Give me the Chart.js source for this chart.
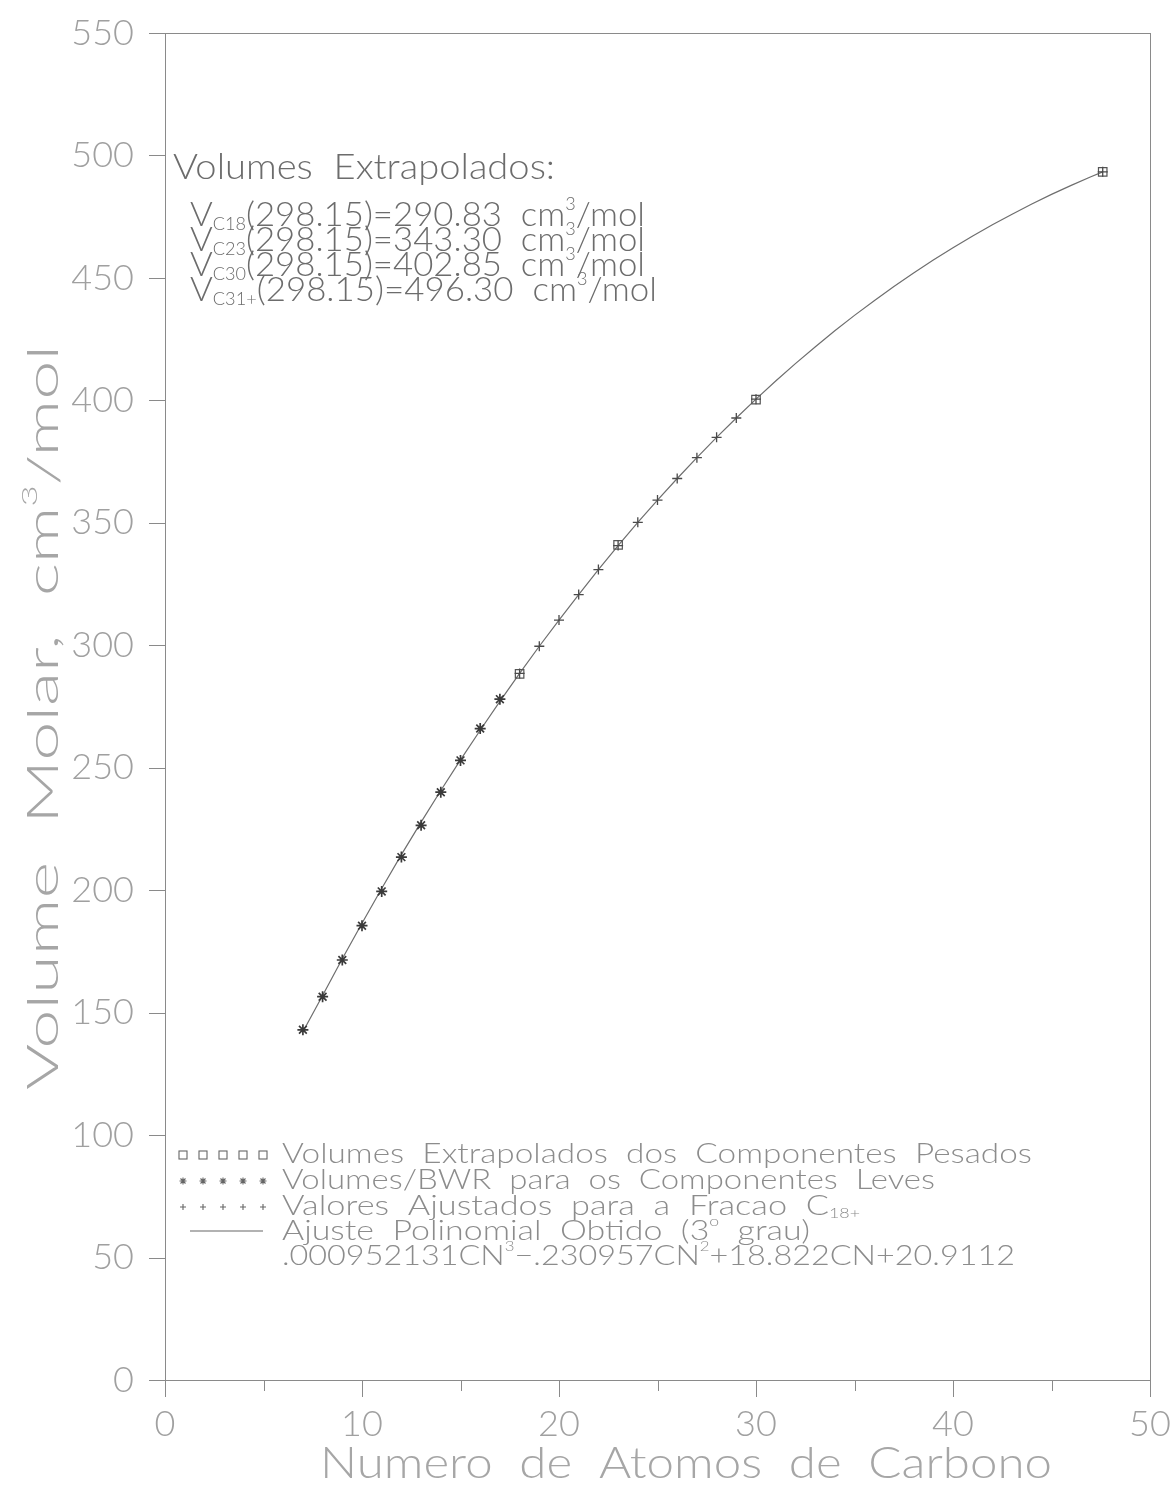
<!DOCTYPE html>
<html><head><meta charset="utf-8">
<script src="https://cdn.jsdelivr.net/npm/chart.js@4.4.0/dist/chart.umd.min.js"></script>
<style>html,body{margin:0;padding:0;background:#fff}#wrap{width:1171px;height:1487px}</style>
</head><body><div id="wrap"><canvas id="c" width="1171" height="1487"></canvas></div>
<script>
const FAMILY = "Lato, 'DejaVu Sans', sans-serif";
const WEIGHT = '300';

// ---- data ----
const xTickValues = [0, 10, 20, 30, 40, 50];
const xTickLabels = ['0', '10', '20', '30', '40', '50'];
const yTickValues = [0, 50, 100, 150, 200, 250, 300, 350, 400, 450, 500, 550];
const yTickLabels = ['0', '50', '100', '150', '200', '250', '300', '350', '400', '450', '500', '550'];

// Volumes/BWR para os Componentes Leves (asterisks)
const lightCN  = [7, 8, 9, 10, 11, 12, 13, 14, 15, 16, 17];
const lightVol = [143, 156.5, 171.5, 185.5, 199.5, 213.5, 226.5, 240, 253, 266, 278];

// Volumes Extrapolados dos Componentes Pesados (squares)
const heavyCN  = [18, 23, 30, 47.6];
const heavyVol = [288.3, 341.0, 400.3, 493.3];

// Valores Ajustados para a Fracao C18+ (plus)
const adjCN  = [18, 19, 20, 21, 22, 23, 24, 25, 26, 27, 28, 29, 30, 47.6];
const adjVol = [288.5, 299.6, 310.3, 320.7, 330.9, 340.7, 350.2, 359.3, 368.1, 376.6, 384.9, 392.8, 400.5, 493.3];

// Ajuste Polinomial (line)
const fitCN  = [7, 8, 9, 10, 11, 12, 13, 14, 15, 16, 17, 18, 19, 20, 21, 22, 23, 24, 25, 26, 27, 28, 29, 30,
                31, 32, 33, 34, 35, 36, 37, 38, 39, 40, 41, 42, 43, 44, 45, 46, 47, 47.6];
const fitVol = [142.2, 157.0, 172.0, 186.5, 200.7, 214.5, 227.8, 240.7, 253.2, 265.3, 277.1, 288.5, 299.6, 310.3,
                320.7, 330.9, 340.7, 350.2, 359.3, 368.1, 376.6, 384.9, 392.8, 400.5, 407.9, 415.0, 421.8, 428.4,
                434.7, 440.7, 446.5, 452.0, 457.3, 462.3, 467.1, 471.7, 476.0, 480.2, 484.1, 487.8, 491.3, 493.3];

const toXY = (xs, ys) => xs.map((x, i) => ({x: x, y: ys[i]}));

// ---- rich text helper ----
function font(size) { return WEIGHT + ' ' + size + 'px ' + FAMILY; }
function rich(ctx, segs, x, y, size, targetW, color, rotate) {
  const parts = segs.map(s => {
    const k = s[1] || 'n';
    const sz = k === 'n' ? size : size * 0.52;
    const dy = k === 'sub' ? size * 0.12 : (k === 'sup' ? -size * 0.5 : 0);
    ctx.font = font(sz);
    return {t: s[0], sz: sz, dy: dy, w: ctx.measureText(s[0]).width};
  });
  const total = parts.reduce((a, p) => a + p.w, 0);
  const sx = targetW / total;
  ctx.save();
  ctx.translate(x, y);
  if (rotate) ctx.rotate(-Math.PI / 2);
  ctx.scale(sx, 1);
  ctx.fillStyle = color;
  ctx.textBaseline = 'alphabetic';
  ctx.textAlign = 'left';
  let cx = 0;
  parts.forEach(p => { ctx.font = font(p.sz); ctx.fillText(p.t, cx, p.dy); cx += p.w; });
  ctx.restore();
}

const decor = {
  id: 'decor',
  afterDraw(chart) {
    const ctx = chart.ctx;
    const a = chart.chartArea;
    const xs = chart.scales.x, ys = chart.scales.y;
    ctx.save();
    // frame
    ctx.strokeStyle = '#8a8a8a';
    ctx.lineWidth = 1;
    ctx.strokeRect(a.left + 0.5, a.top + 0.5, a.right - a.left, a.bottom - a.top);
    // y ticks (outward)
    ctx.beginPath();
    yTickValues.forEach(v => {
      const py = Math.round(ys.getPixelForValue(v)) + 0.5;
      ctx.moveTo(a.left - 16, py); ctx.lineTo(a.left, py);
    });
    // x ticks (outward, minor at 5s)
    for (let v = 0; v <= 50; v += 5) {
      const px = Math.round(xs.getPixelForValue(v)) + 0.5;
      const len = (v % 10 === 0) ? 17 : 11;
      ctx.moveTo(px, a.bottom); ctx.lineTo(px, a.bottom + len);
    }
    ctx.stroke();
    ctx.restore();

    // annotations
    const ann = '#6c6c6c';
    rich(ctx, [['Volumes  Extrapolados:']], 173, 179, 35, 382, ann);
    rich(ctx, [['V'], ['C18', 'sub'], ['(298.15)=290.83  cm'], ['3', 'sup'], ['/mol']], 190, 226, 33, 455, ann);
    rich(ctx, [['V'], ['C23', 'sub'], ['(298.15)=343.30  cm'], ['3', 'sup'], ['/mol']], 190, 251, 33, 455, ann);
    rich(ctx, [['V'], ['C30', 'sub'], ['(298.15)=402.85  cm'], ['3', 'sup'], ['/mol']], 190, 276, 33, 455, ann);
    rich(ctx, [['V'], ['C31+', 'sub'], ['(298.15)=496.30  cm'], ['3', 'sup'], ['/mol']], 190, 301, 33, 467, ann);

    // legend
    const lg = '#8c8c8c';
    const tx = 282;
    const rows = [1163, 1189, 1215, 1240, 1265];
    rich(ctx, [['Volumes  Extrapolados  dos  Componentes  Pesados']], tx, rows[0], 28, 750, lg);
    rich(ctx, [['Volumes/BWR  para  os  Componentes  Leves']], tx, rows[1], 28, 653, lg);
    rich(ctx, [['Valores  Ajustados  para  a  Fracao  C'], ['18+', 'sub']], tx, rows[2], 28, 578, lg);
    rich(ctx, [['Ajuste  Polinomial  Obtido  (3'], ['o', 'sup'], ['  grau)']], tx, rows[3], 28, 528, lg);
    rich(ctx, [['.000952131CN'], ['3', 'sup'], ['\u2212.230957CN'], ['2', 'sup'], ['+18.822CN+20.9112']], tx, rows[4], 28, 733, lg);

    ctx.save();
    ctx.strokeStyle = '#666';
    ctx.lineWidth = 1.1;
    for (let i = 0; i < 5; i++) {
      const cx = 183 + i * 20;
      // squares
      ctx.strokeRect(cx - 4, rows[0] - 12, 8, 8);
      // asterisks
      const cy = rows[1] - 8;
      ctx.beginPath();
      ctx.moveTo(cx - 3.5, cy); ctx.lineTo(cx + 3.5, cy);
      ctx.moveTo(cx, cy - 3.5); ctx.lineTo(cx, cy + 3.5);
      ctx.moveTo(cx - 2.5, cy - 2.5); ctx.lineTo(cx + 2.5, cy + 2.5);
      ctx.moveTo(cx - 2.5, cy + 2.5); ctx.lineTo(cx + 2.5, cy - 2.5);
      ctx.stroke();
      // plus
      const py = rows[2] - 8;
      ctx.beginPath();
      ctx.moveTo(cx - 3, py); ctx.lineTo(cx + 3, py);
      ctx.moveTo(cx, py - 3); ctx.lineTo(cx, py + 3);
      ctx.stroke();
    }
    ctx.beginPath();
    ctx.moveTo(190, rows[3] - 9); ctx.lineTo(263, rows[3] - 9);
    ctx.stroke();
    ctx.restore();

    // axis titles
    const tc = '#a6a6a6';
    rich(ctx, [['Numero  de  Atomos  de  Carbono']], 320, 1478, 43, 732, tc);
    rich(ctx, [['Volume  Molar,  cm'], ['3', 'sup'], ['/mol']], 58, 1090, 43, 745, tc, true);
  }
};

new Chart(document.getElementById('c'), {
  type: 'scatter',
  data: {
    datasets: [
      { label: 'Ajuste Polinomial Obtido (3° grau)', type: 'line', data: toXY(fitCN, fitVol),
        borderColor: '#6e6e6e', borderWidth: 1.2, pointRadius: 0, fill: false, tension: 0, order: 4 },
      { label: 'Volumes Extrapolados dos Componentes Pesados', data: toXY(heavyCN, heavyVol),
        pointStyle: 'rect', pointRadius: 6, borderColor: '#555', borderWidth: 1.2,
        backgroundColor: 'rgba(0,0,0,0)', showLine: false, order: 3 },
      { label: 'Volumes/BWR para os Componentes Leves', data: toXY(lightCN, lightVol),
        pointStyle: 'star', pointRadius: 5.5, borderColor: '#3a3a3a', borderWidth: 1.7,
        backgroundColor: 'rgba(0,0,0,0)', showLine: false, order: 2 },
      { label: 'Valores Ajustados para a Fracao C18+', data: toXY(adjCN, adjVol),
        pointStyle: 'cross', pointRadius: 5, borderColor: '#4a4a4a', borderWidth: 1.3,
        backgroundColor: 'rgba(0,0,0,0)', showLine: false, order: 1 }
    ]
  },
  options: {
    responsive: false,
    animation: false,
    devicePixelRatio: 1,
    events: [],
    layout: { padding: { top: 33, right: 21, left: 0, bottom: 0 } },
    plugins: { legend: { display: false }, tooltip: { enabled: false } },
    scales: {
      x: {
        type: 'linear', min: 0, max: 50,
        afterFit(s) { s.height = 107; s.paddingLeft = 0; s.paddingRight = 0; s.paddingTop = 0; s.paddingBottom = 0; },
        afterBuildTicks(s) { s.ticks = xTickValues.map(v => ({value: v})); },
        ticks: { callback: (v, i) => xTickLabels[i], font: { family: FAMILY, size: 36, weight: WEIGHT },
                 color: '#a0a0a0', padding: 15, maxRotation: 0, autoSkip: false },
        grid: { display: false }, border: { display: false }
      },
      y: {
        type: 'linear', min: 0, max: 550,
        afterFit(s) { s.width = 165; s.paddingLeft = 0; s.paddingRight = 0; s.paddingTop = 0; s.paddingBottom = 0; },
        afterBuildTicks(s) { s.ticks = yTickValues.map(v => ({value: v})); },
        ticks: { callback: (v, i) => yTickLabels[i], font: { family: FAMILY, size: 36, weight: WEIGHT },
                 color: '#a0a0a0', padding: 23, autoSkip: false },
        grid: { display: false }, border: { display: false }
      }
    }
  },
  plugins: [decor]
});
</script>
</body></html>
